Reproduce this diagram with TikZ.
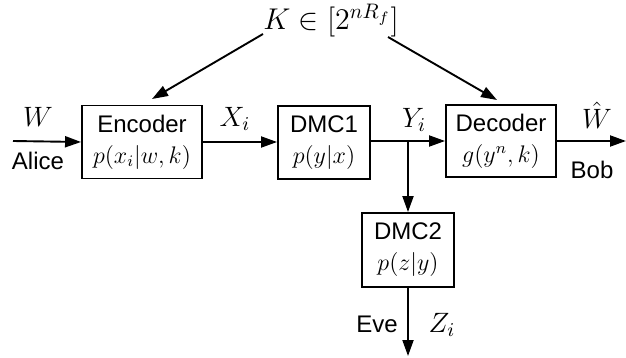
\RequirePackage{fix-cm}
\documentclass[tikz,border=0pt]{standalone}
\usepackage[no-math]{fontspec}
\setmainfont{Liberation Sans}
\usetikzlibrary{arrows.meta,calc}
\begin{document}
\begin{tikzpicture}[x=0.5pt,y=-0.5pt,
  font=\fontsize{12}{15.5}\selectfont,
  box/.style={draw, line width=0.95pt, inner sep=0pt, align=center},
  link/.style={line width=0.95pt, -{Triangle[length=8pt,width=5.5pt]}},
  lbl/.style={inner sep=0pt},
  mlbl/.style={inner sep=0pt, font=\fontsize{14}{17}\selectfont}]
\useasboundingbox (0,0) rectangle (626,358);
\node[box, minimum width=60pt, minimum height=36.5pt] (enc) at (142,142) {Encoder\\$p(x_i|w,k)$};
\node[box, minimum width=46pt, minimum height=36.5pt] (dmc1) at (324,142.5) {DMC1\\$p(y|x)$};
\node[box, minimum width=55pt, minimum height=36pt] (dec) at (501,141) {Decoder\\$g(y^n,k)$};
\node[box, minimum width=46pt, minimum height=37pt] (dmc2) at (408,250) {DMC2\\$p(z|y)$};
\node[lbl, font=\fontsize{15}{18}\selectfont] (K) at (331,21) {$K\in[2^{nR_f}]$};
\coordinate (win) at (13,141);
\coordinate (wout) at (626,141);
\coordinate (br) at (408,141);
\coordinate (zout) at (408,356);
\coordinate (k1) at (263,34);
\coordinate (k2) at (388,37);
\coordinate (e1) at (152,99);
\coordinate (d1) at (497,100);
\node[mlbl] (W) at (38,117) {$W$};
\node[lbl] (alice) at (38,161) {Alice};
\node[mlbl] (X) at (235,119) {$X_i$};
\node[mlbl] (Y) at (414,120) {$Y_i$};
\node[mlbl] (Wh) at (597,115) {$\hat{W}$};
\node[lbl] (bob) at (592,170) {Bob};
\node[lbl] (eve) at (377,324) {Eve};
\node[mlbl] (Z) at (442,325) {$Z_i$};
\draw[link] (win) -- (enc.west);
\draw[link] (enc.east) -- (enc.east -| dmc1.west);
\draw[link] (dmc1.east |- br) -- (br -| dec.west);
\draw[link] (dec.east |- wout) -- (wout);
\draw[link] (br) -- (dmc2.north);
\draw[link] (dmc2.south) -- (zout);
\draw[link] (k1) -- (e1);
\draw[link] (k2) -- (d1);
\end{tikzpicture}
\end{document}
